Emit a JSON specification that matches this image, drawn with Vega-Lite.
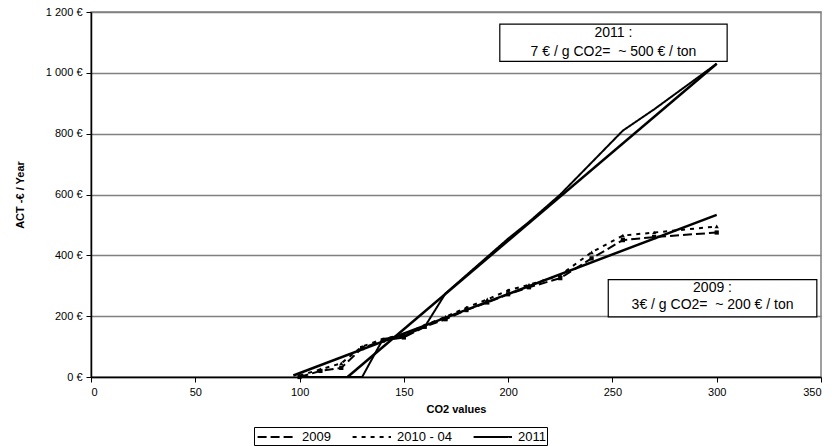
{
  "$schema": "https://vega.github.io/schema/vega-lite/v6.json",
  "width": 730,
  "height": 365,
  "autosize": "none",
  "padding": {"left": 91, "top": 12, "right": 11, "bottom": 69},
  "background": "white",
  "config": {
    "font": "Liberation Sans",
    "view": {"stroke": "#808080", "strokeWidth": 1.5},
    "axis": {
      "labelFont": "Liberation Sans",
      "titleFont": "Liberation Sans",
      "labelColor": "black",
      "titleColor": "black",
      "labelFontSize": 11,
      "titleFontSize": 11,
      "titleFontWeight": "bold",
      "domainColor": "black",
      "domainWidth": 1.5,
      "tickColor": "black",
      "tickSize": 5,
      "gridColor": "#808080",
      "gridWidth": 1.5
    },
    "legend": {"labelFont": "Liberation Sans", "labelFontSize": 13, "labelColor": "black"}
  },
  "datasets": {
    "series": [
      {"series": "2009", "x": 100, "y": 0},
      {"series": "2009", "x": 110, "y": 20},
      {"series": "2009", "x": 120, "y": 30},
      {"series": "2009", "x": 130, "y": 95},
      {"series": "2009", "x": 140, "y": 120},
      {"series": "2009", "x": 150, "y": 130},
      {"series": "2009", "x": 160, "y": 165},
      {"series": "2009", "x": 170, "y": 190},
      {"series": "2009", "x": 180, "y": 220},
      {"series": "2009", "x": 190, "y": 245},
      {"series": "2009", "x": 200, "y": 272},
      {"series": "2009", "x": 210, "y": 295},
      {"series": "2009", "x": 225, "y": 325},
      {"series": "2009", "x": 240, "y": 390},
      {"series": "2009", "x": 255, "y": 450},
      {"series": "2009", "x": 270, "y": 460},
      {"series": "2009", "x": 300, "y": 475},
      {"series": "2010 - 04", "x": 100, "y": 5},
      {"series": "2010 - 04", "x": 110, "y": 25},
      {"series": "2010 - 04", "x": 120, "y": 45},
      {"series": "2010 - 04", "x": 130, "y": 100},
      {"series": "2010 - 04", "x": 140, "y": 125},
      {"series": "2010 - 04", "x": 150, "y": 140},
      {"series": "2010 - 04", "x": 160, "y": 170},
      {"series": "2010 - 04", "x": 170, "y": 198},
      {"series": "2010 - 04", "x": 180, "y": 228},
      {"series": "2010 - 04", "x": 190, "y": 255},
      {"series": "2010 - 04", "x": 200, "y": 285},
      {"series": "2010 - 04", "x": 210, "y": 303},
      {"series": "2010 - 04", "x": 225, "y": 335},
      {"series": "2010 - 04", "x": 240, "y": 410},
      {"series": "2010 - 04", "x": 255, "y": 465},
      {"series": "2010 - 04", "x": 270, "y": 475},
      {"series": "2010 - 04", "x": 300, "y": 495},
      {"series": "2011", "x": 100, "y": 0},
      {"series": "2011", "x": 110, "y": 0},
      {"series": "2011", "x": 120, "y": 0},
      {"series": "2011", "x": 130, "y": 0},
      {"series": "2011", "x": 140, "y": 125},
      {"series": "2011", "x": 150, "y": 135},
      {"series": "2011", "x": 160, "y": 165},
      {"series": "2011", "x": 170, "y": 275},
      {"series": "2011", "x": 180, "y": 335},
      {"series": "2011", "x": 190, "y": 395},
      {"series": "2011", "x": 200, "y": 455},
      {"series": "2011", "x": 210, "y": 510},
      {"series": "2011", "x": 225, "y": 600},
      {"series": "2011", "x": 240, "y": 705},
      {"series": "2011", "x": 255, "y": 810},
      {"series": "2011", "x": 270, "y": 880},
      {"series": "2011", "x": 300, "y": 1030}
    ],
    "trends": [
      {"trend": "2009", "x": 97, "y": 5},
      {"trend": "2009", "x": 300, "y": 533},
      {"trend": "2011", "x": 123, "y": 0},
      {"trend": "2011", "x": 300, "y": 1030}
    ],
    "notes": [
      {"x": 196, "x2": 305, "y": 1160, "y2": 1038, "cx": 250.5, "l1": 1131, "l2": 1067, "t1": "2011 :", "t2": "7 € / g CO2= \u00a0~ 500 € / ton"},
      {"x": 248, "x2": 348, "y": 320, "y2": 198, "cx": 298, "l1": 291, "l2": 236, "t1": "2009 :", "t2": "3€ / g CO2= \u00a0~ 200 € / ton"}
    ]
  },
  "layer": [
    {
      "data": {"name": "series"},
      "mark": {"type": "line", "color": "black", "clip": true},
      "encoding": {
        "x": {
          "field": "x", "type": "quantitative",
          "scale": {"domain": [0, 350], "nice": false},
          "axis": {"title": "CO2 values", "values": [0, 50, 100, 150, 200, 250, 300, 350], "grid": false, "titlePadding": 6, "labelPadding": 4}
        },
        "y": {
          "field": "y", "type": "quantitative",
          "scale": {"domain": [0, 1200], "nice": false},
          "axis": {
            "title": "ACT -€ / Year",
            "values": [0, 200, 400, 600, 800, 1000, 1200],
            "labelExpr": "replace(format(datum.value, ',d'), ',', ' ') + ' €'",
            "titlePadding": 20,
            "labelPadding": 4
          }
        },
        "strokeDash": {
          "field": "series", "type": "nominal",
          "scale": {"domain": ["2009", "2010 - 04", "2011"], "range": [[9, 4], [4, 5], [1, 0]]},
          "legend": {
            "title": null,
            "orient": "none",
            "legendX": 163,
            "legendY": 415,
            "direction": "horizontal",
            "symbolType": "M-0.8,0H4",
            "symbolSize": 256,
            "symbolStrokeColor": "black",
            "strokeColor": "black",
            "padding": 1,
            "columnPadding": 17,
            "labelOffset": 29,
            "offset": 0
          }
        },
        "strokeWidth": {
          "field": "series", "type": "nominal",
          "scale": {"domain": ["2009", "2010 - 04", "2011"], "range": [2, 2, 1]},
          "legend": {
            "title": null,
            "orient": "none",
            "legendX": 163,
            "legendY": 415,
            "direction": "horizontal",
            "symbolType": "M-0.8,0H4",
            "symbolSize": 256,
            "symbolStrokeColor": "black",
            "strokeColor": "black",
            "padding": 1,
            "columnPadding": 17,
            "labelOffset": 29,
            "offset": 0
          }
        },
        "detail": {"field": "series"}
      }
    },
    {
      "data": {"name": "series"},
      "transform": [{"filter": "datum.series != '2011'"}],
      "mark": {"type": "point", "filled": true, "color": "black", "size": 18, "opacity": 1},
      "encoding": {
        "x": {"field": "x", "type": "quantitative"},
        "y": {"field": "y", "type": "quantitative"},
        "shape": {
          "field": "series", "type": "nominal",
          "scale": {"domain": ["2009", "2010 - 04"], "range": ["square", "triangle-up"]},
          "legend": null
        }
      }
    },
    {
      "data": {"name": "trends"},
      "mark": {"type": "line", "color": "black", "strokeWidth": 2.5},
      "encoding": {
        "x": {"field": "x", "type": "quantitative"},
        "y": {"field": "y", "type": "quantitative"},
        "detail": {"field": "trend"}
      }
    },
    {
      "data": {"name": "notes"},
      "mark": {"type": "rect", "fill": "white", "stroke": "black", "strokeWidth": 1.2},
      "encoding": {
        "x": {"field": "x", "type": "quantitative"},
        "x2": {"field": "x2"},
        "y": {"field": "y", "type": "quantitative"},
        "y2": {"field": "y2"}
      }
    },
    {
      "data": {"name": "notes"},
      "mark": {"type": "text", "fontSize": 14, "color": "black", "align": "center", "baseline": "middle"},
      "encoding": {
        "x": {"field": "cx", "type": "quantitative"},
        "y": {"field": "l1", "type": "quantitative"},
        "text": {"field": "t1"}
      }
    },
    {
      "data": {"name": "notes"},
      "mark": {"type": "text", "fontSize": 14, "color": "black", "align": "center", "baseline": "middle"},
      "encoding": {
        "x": {"field": "cx", "type": "quantitative"},
        "y": {"field": "l2", "type": "quantitative"},
        "text": {"field": "t2"}
      }
    }
  ]
}
